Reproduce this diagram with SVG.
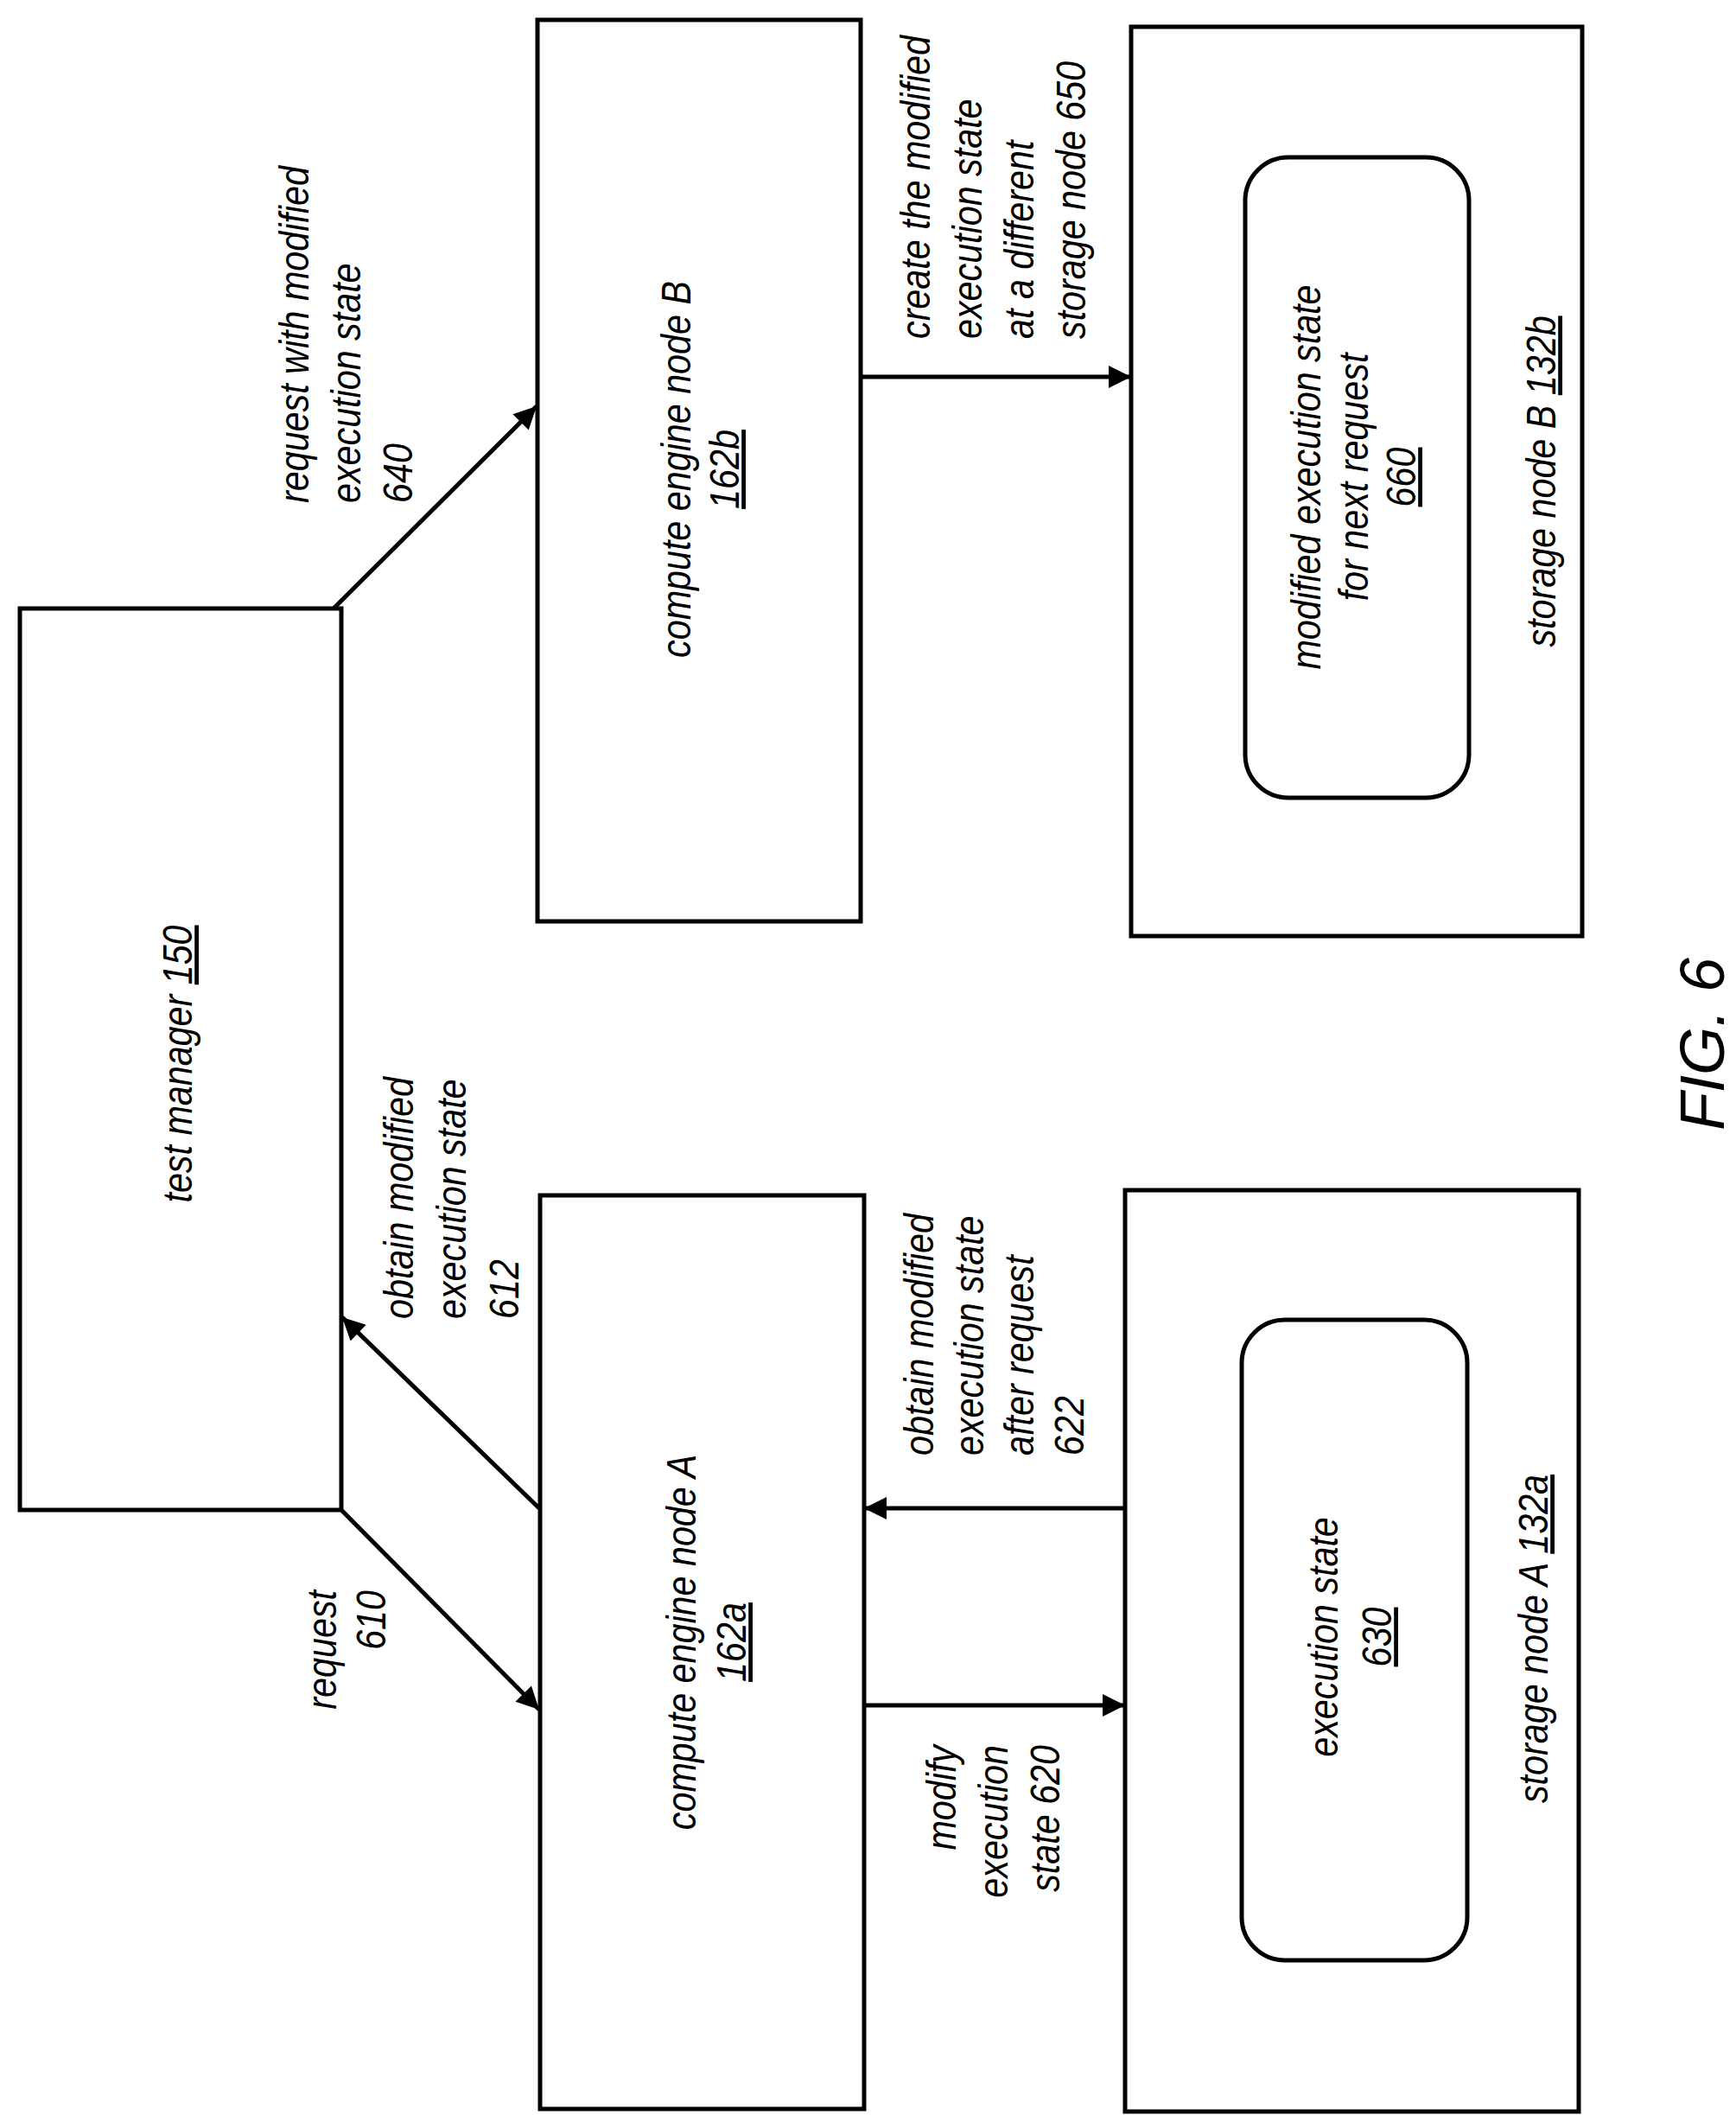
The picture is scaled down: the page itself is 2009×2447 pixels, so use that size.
<svg xmlns="http://www.w3.org/2000/svg" width="2009" height="2447" viewBox="0 0 2009 2447">
<style>
.b{fill:#fff;stroke:#000;stroke-width:5}
.c{stroke:#000;stroke-width:5;fill:none;marker-end:url(#ah)}
text{font-family:"Liberation Sans",Arial,sans-serif;font-style:italic;font-size:48px;fill:#000}
.u{text-decoration:underline}
</style>
<defs><marker id="ah" viewBox="0 0 10 10" refX="10" refY="5" markerUnits="userSpaceOnUse" markerWidth="34" markerHeight="26" orient="auto"><path d="M0,0 L10,5 L0,10 z" fill="#000"/></marker></defs>
<rect width="2009" height="2447" fill="#fff"/>
<g id="tm"><rect class="b" x="23" y="704" width="372" height="1043"/>
<g transform="translate(222,1231) rotate(-90) scale(0.86,1)"><text text-anchor="middle">test manager <tspan class="u">150</tspan></text></g></g>
<g id="cb"><rect class="b" x="622" y="23" width="374" height="1043"/>
<g transform="translate(799,543) rotate(-90) scale(0.86,1)"><text text-anchor="middle"><tspan x="0" y="0">compute engine node B</tspan><tspan class="u" x="0" y="56">162b</tspan></text></g></g>
<g id="sb"><rect class="b" x="1309" y="31" width="522" height="1052"/>
<rect class="b" x="1441" y="182" width="259" height="741" rx="50"/>
<g transform="translate(1528,552) rotate(-90) scale(0.86,1)"><text text-anchor="middle"><tspan x="0" y="0">modified execution state</tspan><tspan x="0" y="55">for next request</tspan><tspan class="u" x="0" y="110">660</tspan></text></g>
<g transform="translate(1800,557) rotate(-90) scale(0.86,1)"><text text-anchor="middle">storage node B <tspan class="u">132b</tspan></text></g></g>
<g id="ca"><rect class="b" x="625" y="1383" width="375" height="1057"/>
<g transform="translate(805,1900) rotate(-90) scale(0.86,1)"><text text-anchor="middle"><tspan x="0" y="0">compute engine node A</tspan><tspan class="u" x="0" y="58">162a</tspan></text></g></g>
<g id="sa"><rect class="b" x="1302" y="1377" width="525" height="1066"/>
<rect class="b" x="1437" y="1527" width="261" height="741" rx="50"/>
<g transform="translate(1548,1894) rotate(-90) scale(0.86,1)"><text text-anchor="middle"><tspan x="0" y="0">execution state</tspan><tspan class="u" x="0" y="62">630</tspan></text></g>
<g transform="translate(1791,1896) rotate(-90) scale(0.86,1)"><text text-anchor="middle">storage node A <tspan class="u">132a</tspan></text></g></g>
<g id="connectors">
<line class="c" x1="386" y1="704" x2="621" y2="470"/>
<line class="c" x1="395" y1="1747" x2="624" y2="1978"/>
<line class="c" x1="624" y1="1745" x2="396" y2="1524"/>
<line class="c" x1="1302" y1="1745" x2="1000" y2="1745"/>
<line class="c" x1="1000" y1="1973" x2="1302" y2="1973"/>
<line class="c" x1="996" y1="436" x2="1309" y2="436"/>
</g>
<g id="labels">
<g transform="translate(357,582) rotate(-90) scale(0.86,1)"><text><tspan x="0" y="0">request with modified</tspan><tspan x="0" y="60">execution state</tspan><tspan x="0" y="120">640</tspan></text></g>
<g transform="translate(1076,392) rotate(-90) scale(0.86,1)"><text><tspan x="0" y="0">create the modified</tspan><tspan x="0" y="60">execution state</tspan><tspan x="0" y="120">at a different</tspan><tspan x="0" y="180">storage node 650</tspan></text></g>
<g transform="translate(478,1526) rotate(-90) scale(0.86,1)"><text><tspan x="0" y="0">obtain modified</tspan><tspan x="0" y="61">execution state</tspan><tspan x="0" y="122">612</tspan></text></g>
<g transform="translate(389,1840) rotate(-90) scale(0.86,1)"><text text-anchor="end"><tspan x="0" y="0">request</tspan><tspan x="0" y="57">610</tspan></text></g>
<g transform="translate(1080,1684) rotate(-90) scale(0.86,1)"><text><tspan x="0" y="0">obtain modified</tspan><tspan x="0" y="58">execution state</tspan><tspan x="0" y="116">after request</tspan><tspan x="0" y="174">622</tspan></text></g>
<g transform="translate(1106,2019) rotate(-90) scale(0.86,1)"><text text-anchor="end"><tspan x="0" y="0">modify</tspan><tspan x="0" y="60">execution</tspan><tspan x="0" y="120">state 620</tspan></text></g>
<g transform="translate(1995,1208) rotate(-90)"><text text-anchor="middle" style="font-size:72px">FIG. 6</text></g>
</g>
</svg>
